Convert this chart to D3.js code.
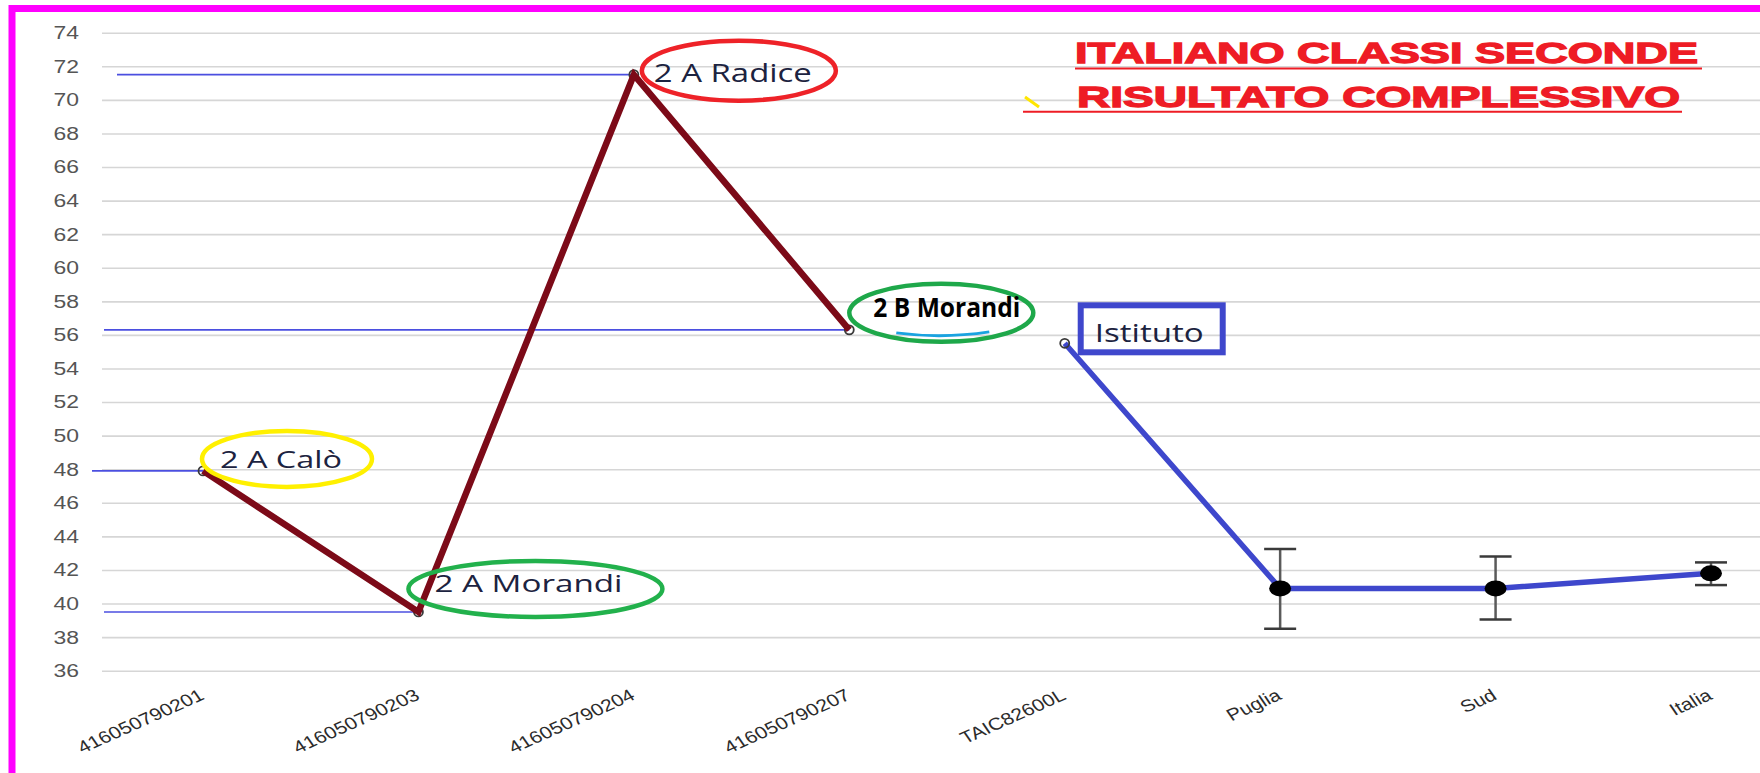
<!DOCTYPE html>
<html>
<head>
<meta charset="utf-8">
<script src="https://cdn.jsdelivr.net/npm/d3@7"></script>
<style>
  html, body { margin: 0; padding: 0; background: #fff; }
  svg { display: block; }
</style>
</head>
<body>
<svg id="chart" width="1760" height="773"></svg>
<script>
// chart data
const categories = ["416050790201", "416050790203", "416050790204", "416050790207",
                    "TAIC82600L", "Puglia", "Sud", "Italia"]
const classNames = ["416050790201", "416050790203", "416050790204", "416050790207"]
const classValues = [47.9, 39.5, 71.5, 56.3]
const classLabels = ["2 A Calò", "2 A Morandi", "2 A Radice", "2 B Morandi"]
const summaryNames = ["TAIC82600L", "Puglia", "Sud", "Italia"]
const summaryValues = [55.5, 40.9, 40.9, 41.8]
const errLow = [null, 38.5, 39.05, 41.1]
const errHigh = [null, 43.25, 42.8, 42.45]
const schoolLabel = "Istituto"
const yTicks = [36, 38, 40, 42, 44, 46, 48, 50, 52, 54, 56, 58, 60, 62, 64, 66, 68, 70, 72, 74]
const titleLines = ["ITALIANO CLASSI SECONDE", "RISULTATO COMPLESSIVO"]

// callout look, relative to each class point
const callouts = [
  {color: "#fff000", dx: 84, dy: -12, rx: 85, ry: 28, tx: 17, ty: -3, tw: 122, size: 24},
  {color: "#22b14c", dx: 117, dy: -23, rx: 127, ry: 28, tx: 16, ty: -20, tw: 188, size: 24},
  {color: "#ee2228", dx: 105, dy: -4, rx: 97, ry: 30, tx: 20, ty: 7, tw: 158, size: 25},
  {color: "#1ea84a", dx: 92, dy: -17, rx: 92, ry: 29, tx: 24, ty: -13, tw: 147, size: 26, bold: true}
]
const refStarts = [92, 104, 117, 104]

const svg = d3.select("#chart")
const margin = {top: 32.7, left: 102, bottom: 670.7}
const stretch = 1.24

const x = d3.scalePoint()
  .domain(categories)
  .range([203, 1711])

const y = d3.scaleLinear()
  .domain([36, 74])
  .range([margin.bottom, margin.top])

// gridlines + y labels
const yAxis = d3.axisLeft(y)
  .tickValues(yTicks)
  .tickSize(-(1760 - margin.left))
  .tickPadding(18.5)

let gy = svg.append("g")
  .attr("transform", `translate(${margin.left}, 0)`)
  .call(yAxis)
gy.select(".domain").remove()
gy.selectAll(".tick line").attr("stroke", "#d6d6d6").attr("stroke-width", 1.6)
gy.selectAll(".tick text")
  .attr("font-family", "Liberation Sans, Arial, sans-serif")
  .attr("font-size", 18.5)
  .attr("fill", "#555")
  .attr("transform", `scale(${stretch}, 1)`)

// x labels
const xAxis = d3.axisBottom(x).tickSize(0)
let gx = svg.append("g")
  .attr("transform", `translate(0, ${y(36)})`)
  .call(xAxis)
gx.select(".domain").remove()
gx.selectAll(".tick text")
  .attr("font-family", "Liberation Sans, Arial, sans-serif")
  .attr("font-size", 17)
  .attr("fill", "#2b2b2b")
  .attr("text-anchor", "end")
  .attr("x", 0).attr("y", 0).attr("dy", 0)
  .attr("transform", `translate(2, 28) scale(${stretch}, 1) rotate(-29)`)

// title
const title = svg.append("g")
titleLines.forEach((t, i) => {
  let tx = i === 0 ? 1075 : 1077
  let tw = i === 0 ? 623 : 603
  let base = i === 0 ? 63.3 : 107.3
  title.append("text")
    .attr("x", tx).attr("y", base)
    .attr("textLength", tw)
    .attr("lengthAdjust", "spacingAndGlyphs")
    .attr("font-family", "Liberation Sans, Arial, sans-serif")
    .attr("font-weight", "bold")
    .attr("font-size", 30)
    .attr("fill", "#ee1c25")
    .attr("stroke", "#ee1c25")
    .attr("stroke-width", 1.3)
    .text(t)
})
title.append("line").attr("x1", 1075).attr("x2", 1702).attr("y1", 68.5).attr("y2", 68.5)
  .attr("stroke", "#ee1c25").attr("stroke-width", 2)
title.append("line").attr("x1", 1023).attr("x2", 1682).attr("y1", 111.7).attr("y2", 111.7)
  .attr("stroke", "#ee1c25").attr("stroke-width", 2)
title.append("line").attr("x1", 1025).attr("x2", 1039).attr("y1", 97).attr("y2", 107)
  .attr("stroke", "#ffe600").attr("stroke-width", 3)

// thin blue reference lines for each class
svg.append("g").selectAll("line")
  .data(classValues).enter()
  .append("line")
  .attr("x1", (d, i) => refStarts[i])
  .attr("x2", (d, i) => x(classNames[i]))
  .attr("y1", d => y(d))
  .attr("y2", d => y(d))
  .attr("stroke", "#4b4fe0")
  .attr("stroke-width", 1.6)

// error bars
const eb = svg.append("g")
summaryNames.forEach((n, i) => {
  if (errLow[i] === null) return
  let cx = x(n)
  eb.append("line").attr("x1", cx).attr("x2", cx)
    .attr("y1", y(errLow[i])).attr("y2", y(errHigh[i]))
    .attr("stroke", "#5a5a5a").attr("stroke-width", 2.5)
  ;[errLow[i], errHigh[i]].forEach(v => {
    eb.append("line").attr("x1", cx - 16).attr("x2", cx + 16)
      .attr("y1", y(v)).attr("y2", y(v))
      .attr("stroke", "#3a3a3a").attr("stroke-width", 2.5)
  })
})

// summary line (istituto, puglia, sud, italia)
const line = d3.line()
  .x((d, i) => x(summaryNames[i]))
  .y(d => y(d))

svg.append("path")
  .datum(summaryValues)
  .attr("d", line)
  .attr("fill", "none")
  .attr("stroke", "#3e47cc")
  .attr("stroke-width", 5.5)

svg.append("g").selectAll("ellipse")
  .data(summaryValues.slice(1)).enter()
  .append("ellipse")
  .attr("cx", (d, i) => x(summaryNames[i + 1]))
  .attr("cy", d => y(d))
  .attr("rx", 11)
  .attr("ry", 8)
  .attr("fill", "#000")

// class line
const classLine = d3.line()
  .x((d, i) => x(classNames[i]))
  .y(d => y(d))

// small markers
svg.append("g").selectAll("circle")
  .data(classValues.concat([summaryValues[0]])).enter()
  .append("circle")
  .attr("cx", (d, i) => x(i < 4 ? classNames[i] : summaryNames[0]))
  .attr("cy", d => y(d))
  .attr("r", 4.5)
  .attr("fill", "none")
  .attr("stroke", "#3a3a3a")
  .attr("stroke-width", 1.8)

svg.append("path")
  .datum(classValues)
  .attr("d", classLine)
  .attr("fill", "none")
  .attr("stroke", "#7c0a18")
  .attr("stroke-width", 6.5)
  .attr("stroke-linejoin", "miter")
  .attr("stroke-miterlimit", 10)

// callouts
const co = svg.append("g")
classValues.forEach((v, i) => {
  let c = callouts[i]
  let px = x(classNames[i]), py = y(v)
  if (i === 3) {
    co.append("path")
      .attr("d", `M${px + 47},${py + 3} Q${px + 93},${py + 9} ${px + 140},${py + 2}`)
      .attr("fill", "none").attr("stroke", "#1aa3e0").attr("stroke-width", 3)
  }
  co.append("ellipse")
    .attr("cx", px + c.dx).attr("cy", py + c.dy)
    .attr("rx", c.rx).attr("ry", c.ry)
    .attr("fill", "none")
    .attr("stroke", c.color)
    .attr("stroke-width", 4.5)
  co.append("text")
    .attr("x", px + c.tx).attr("y", py + c.ty)
    .attr("textLength", c.tw)
    .attr("lengthAdjust", "spacingAndGlyphs")
    .attr("font-family", "Open Sans, sans-serif")
    .attr("font-weight", c.bold ? "bold" : "normal")
    .attr("font-size", c.size)
    .attr("fill", c.bold ? "#000" : "#1c2340")
    .text(classLabels[i])
})

// istituto box
let ix = x(summaryNames[0]), iy = y(summaryValues[0])
co.append("rect")
  .attr("x", ix + 16).attr("y", iy - 38)
  .attr("width", 142).attr("height", 47)
  .attr("fill", "none")
  .attr("stroke", "#3f47cc")
  .attr("stroke-width", 6)
co.append("text")
  .attr("x", ix + 30).attr("y", iy - 1)
  .attr("textLength", 109)
  .attr("lengthAdjust", "spacingAndGlyphs")
  .attr("font-family", "Open Sans, sans-serif")
  .attr("font-size", 26)
  .attr("fill", "#1c2340")
  .text(schoolLabel)

// magenta frame
svg.append("rect")
  .attr("x", 12).attr("y", 8.5)
  .attr("width", 1900).attr("height", 900)
  .attr("fill", "none")
  .attr("stroke", "#ff00ff")
  .attr("stroke-width", 7)
</script>
</body>
</html>
